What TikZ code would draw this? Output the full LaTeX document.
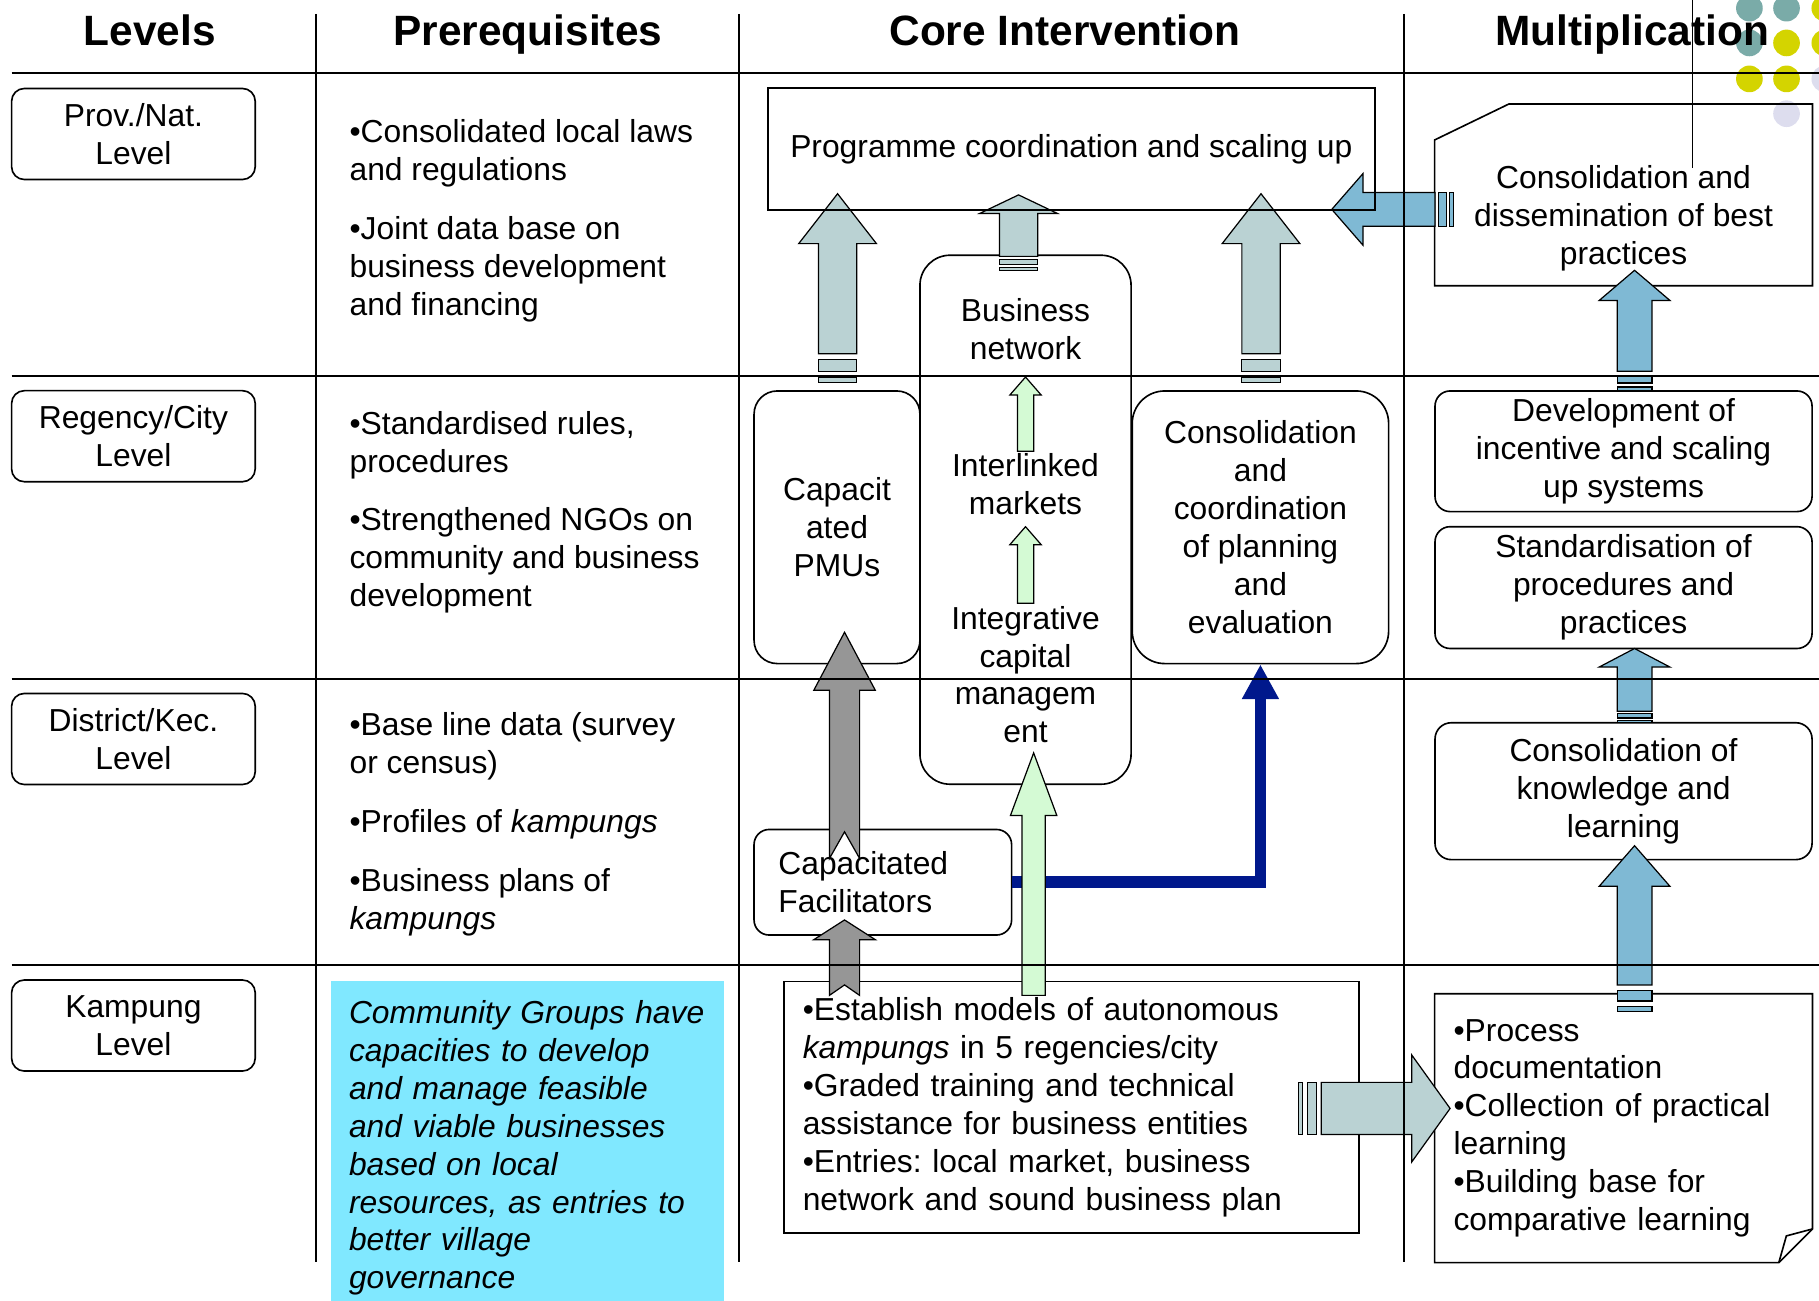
\documentclass[tikz,border=0pt]{standalone}
\usepackage{fontspec}
\setmainfont{Liberation Sans}
\usetikzlibrary{calc,positioning,arrows.meta}
\frenchspacing

\definecolor{cellcyan}{RGB}{128,232,255}
\definecolor{arrgray}{RGB}{186,210,211}
\definecolor{arrblue}{RGB}{127,185,212}
\definecolor{arrgreen}{RGB}{212,250,212}
\definecolor{arrdark}{RGB}{150,150,150}
\definecolor{linkblue}{RGB}{0,24,140}
\definecolor{dotteal}{RGB}{122,171,168}
\definecolor{dotyellow}{RGB}{212,212,0}
\definecolor{dotlilac}{RGB}{221,221,238}

\newcommand{\bodyfont}{\fontsize{15.6pt}{18.6pt}\selectfont}
\newcommand{\headfont}{\fontsize{20.8pt}{24pt}\selectfont\bfseries}

\newcommand{\stripeup}[7][]{%
  \coordinate (sB) at (#2);
  \coordinate (sH) at (#2 |- #3);
  \draw[#1] ($(sB)+(-#5,0)$) rectangle ($(sB)+(#5,-#4)$);
  \draw[#1] ($(sB)+(-#5,-2*#4)$) rectangle ($(sB)+(#5,-4*#4)$);
  \draw[#1] ($(sB)+(-#5,-5*#4)$) -- ($(sH)+(-#5,#7)$) -- ($(sH)+(-#6,#7)$) -- (sH)
    -- ($(sH)+(#6,#7)$) -- ($(sH)+(#5,#7)$) -- ($(sB)+(#5,-5*#4)$) -- cycle;}

\newcommand{\stripeh}[8][]{%
  \pgfmathsetmacro\blka{(#8)*(#4)}%
  \pgfmathsetmacro\blkb{2*(#8)*(#4)}%
  \pgfmathsetmacro\blkc{4*(#8)*(#4)}%
  \pgfmathsetmacro\blkd{5*(#8)*(#4)}%
  \pgfmathsetmacro\blke{0-(#8)*(#7)}%
  \coordinate (sB) at (#2);
  \coordinate (sH) at (#2 -| #3);
  \draw[#1] ($(sB)+(0,-#5)$) rectangle ($(sB)+(\blka,#5)$);
  \draw[#1] ($(sB)+(\blkb,-#5)$) rectangle ($(sB)+(\blkc,#5)$);
  \draw[#1] ($(sB)+(\blkd,-#5)$) -- ($(sH)+(\blke,-#5)$) -- ($(sH)+(\blke,-#6)$) -- (sH)
    -- ($(sH)+(\blke,#6)$) -- ($(sH)+(\blke,#5)$) -- ($(sB)+(\blkd,#5)$) -- cycle;}

\newcommand{\plainup}[7][]{%
  \coordinate (sB) at (#2);
  \coordinate (sH) at (#2 |- #3);
  \draw[#1] ($(sB)+(-#4,0)$) -- ($(sH)+(-#4,#6)$) -- ($(sH)+(-#5,#6)$) -- (sH)
    -- ($(sH)+(#5,#6)$) -- ($(sH)+(#4,#6)$) -- ($(sB)+(#4,0)$) -- ($(sB)+(0,-#7)$) -- cycle;}

\begin{document}
\begin{tikzpicture}[
  x=0.2mm, y=-0.2mm,
  font=\bodyfont,
  lvlbox/.style={draw, line width=0.8pt, rounded corners=2.2mm, align=center, inner sep=0pt,
    minimum width=42mm, minimum height=15.7mm},
  head/.style={font=\headfont, anchor=base, inner sep=0pt},
  prereq/.style={align=left, anchor=north west, inner sep=0pt},
  core/.style={draw, line width=0.8pt, align=center, inner sep=0pt},
  multbox/.style={draw, line width=0.8pt, rounded corners=2.6mm, align=center, inner sep=0pt,
    minimum width=65mm},
  grid/.style={line width=1pt},
  blk/.style={draw, line width=0.6pt, line join=miter}
]
\useasboundingbox (0,0) rectangle (1568,1121);

\foreach \dx/\dy/\dc in {1508/7/dotteal, 1540/7/dotteal, 1573/7/dotyellow,
    1508/37/dotteal, 1540/37/dotyellow, 1573/37/dotyellow,
    1508/68/dotyellow, 1540/68/dotyellow, 1573/68/dotlilac, 1540/98/dotlilac}
  \fill[\dc] (\dx,\dy) circle[radius=2.3mm];

\node[lvlbox] (prov) at (115,115.5) {Prov./Nat.\\Level};
\node[lvlbox] (reg) at (115,376) {Regency/City\\Level};
\node[lvlbox] (dist) at (115,637) {District/Kec.\\Level};
\node[lvlbox] (kamp) at (115,884) {Kampung\\Level};

\node[prereq] (pre1) at (301,103) {•Consolidated local laws\\and regulations\\[3.6mm]•Joint data base on\\business development\\and financing};
\node[prereq] (pre2) at (301,354) {•Standardised rules,\\procedures\\[3.6mm]•Strengthened NGOs on\\community and business\\development};
\node[prereq] (pre3) at (301,614) {•Base line data (survey\\or census)\\[3.6mm]•Profiles of \textit{kampungs}\\[3.6mm]•Business plans of\\\textit{kampungs}};
\node[fill=cellcyan, anchor=north west, inner xsep=3.1mm, inner ysep=3.4mm, text width=61.6mm,
  align=left, font=\bodyfont\itshape] (comm) at (285,845) {Community Groups have\\capacities to develop\\and manage feasible\\and viable businesses\\based on local\\resources, as entries to\\better village\\governance};

\node[core, rounded corners=4mm, minimum width=28.6mm, minimum height=47mm] (pmu) at (721.5,454.5) {Capacit\\ated\\PMUs};
\node[core, rounded corners=5.2mm, minimum width=36.4mm, minimum height=91.2mm] (bnet) at (884,448) {};
\node[align=center] (bnetA) at (884,284) {Business\\network};
\node[align=center] (bnetB) at (884,417) {Interlinked\\markets};
\node[align=center] (bnetC) at (884,581.5) {Integrative\\capital\\managem\\ent};
\node[core, rounded corners=5.6mm, minimum width=44.2mm, minimum height=47mm] (cons) at (1086.5,454.5) {Consolidation\\and\\coordination\\of planning\\and\\evaluation};
\node[core, rounded corners=2.6mm, minimum width=44.4mm, minimum height=18.2mm, text width=36mm, align=left] (fac) at (761,760.5) {Capacitated\\Facilitators};
\node[core, minimum width=99.1mm, minimum height=43.4mm, text width=92.7mm, align=left] (kcore) at (923.75,954.5) {•Establish models of autonomous\\\textit{kampungs} in 5 regencies/city\\•Graded training and technical\\assistance for business entities\\•Entries: local market, business\\network and sound business plan};

\node[minimum width=65mm, minimum height=31.2mm, inner sep=0pt] (diss) at (1399.5,168) {};
\draw[line width=0.8pt] (diss.south west) -- ($(diss.north west)+(0,31)$) -- ($(diss.north west)+(64,0)$) -- (diss.north east) -- (diss.south east) -- cycle;
\node[align=center] (dissA) at (1399.5,188) {Consolidation and\\dissemination of best\\practices};
\node[multbox, minimum height=20.8mm] (dev) at (1399.5,389) {Development of\\incentive and scaling\\up systems};
\node[multbox, minimum height=21mm] (std) at (1399.5,506.5) {Standardisation of\\procedures and\\practices};
\node[multbox, rounded corners=2.8mm, minimum height=23.6mm] (know) at (1399.5,682) {Consolidation of\\knowledge and\\learning};
\node[minimum width=65mm, minimum height=46.2mm, inner sep=0pt, text width=58.6mm, align=left] (note) at (1399.5,972.5) {•Process\\documentation\\•Collection of practical\\learning\\•Building base for\\comparative learning};
\draw[line width=0.8pt] (note.north west) -- (note.north east) -- ($(note.south east)+(0,-29)$) -- ($(note.south east)+(-29,0)$) -- (note.south west) -- cycle;
\draw[line width=0.8pt] ($(note.south east)+(0,-29)$) -- ($(note.south east)+(-22.5,-23)$) -- ($(note.south east)+(-29,0)$);

\draw[linkblue, line width=2mm, -{Triangle[length=6mm, width=6mm]}] (fac.east) -| (cons.south);

\coordinate (c1b) at (722,330); \coordinate (c1t) at (722,167);
\coordinate (c2b) at (878,233); \coordinate (c2t) at (878,168);
\coordinate (c3b) at (1087,330); \coordinate (c3t) at (1087,167);
\stripeup[blk, fill=arrgray]{c1b}{c1t}{5}{16.5}{33.5}{43}
\stripeup[blk, fill=arrgray]{c2b}{c2t}{2.4}{16.5}{33.5}{16}
\stripeup[blk, fill=arrgray]{c3b}{c3t}{5}{16.5}{33.5}{43}

\coordinate (hrb) at (1119,955.5); \coordinate (hrt) at (1250,955.5);
\stripeh[blk, fill=arrgray]{hrb}{hrt}{4}{22.5}{46}{33}{1}
\coordinate (hlb) at (1253,180.5); \coordinate (hlt) at (1148,180.5);
\stripeh[blk, fill=arrblue]{hlb}{hlt}{3.2}{14.5}{31}{27}{-1}

\coordinate (m1b) at (1409,872); \coordinate (m1t) at (1409,729);
\coordinate (m2b) at (1409,623); \coordinate (m2t) at (1409,559);
\coordinate (m3b) at (1409,337); \coordinate (m3t) at (1409,233);
\stripeup[blk, fill=arrblue]{m1b}{m1t}{4.6}{15}{30.5}{35}
\stripeup[blk, fill=arrblue]{m2b}{m2t}{2}{15}{30.5}{16}
\stripeup[blk, fill=arrblue]{m3b}{m3t}{3.4}{15}{30.5}{26}

\coordinate (g1b) at (884,389); \coordinate (g1t) at (884,325);
\coordinate (g2b) at (884,520); \coordinate (g2t) at (884,454);
\coordinate (g3b) at (891,858); \coordinate (g3t) at (891,649);
\plainup[blk, fill=arrgreen]{g1b}{g1t}{7}{13.5}{15.5}{0}
\plainup[blk, fill=arrgreen]{g2b}{g2t}{7}{13.5}{15.5}{0}
\plainup[blk, fill=arrgreen]{g3b}{g3t}{10}{20}{54}{0}

\coordinate (d1b) at (728,740); \coordinate (d1t) at (728,545);
\coordinate (d2b) at (728,858); \coordinate (d2t) at (728,793);
\plainup[blk, fill=arrdark]{d1b}{d1t}{13}{26.5}{50}{23}
\plainup[blk, fill=arrdark]{d2b}{d2t}{13}{26.5}{17}{9}

\draw[grid] (10,63) -- (1568,63);
\foreach \ry in {324,585,832}
  \draw[grid] (10,\ry) -- (1568,\ry);
\foreach \cx in {272,637,1210}
  \draw[grid] (\cx,12) -- (\cx,1088);

\node[core, minimum width=104.6mm, minimum height=21mm] (prog) at (923.5,128.5) {Programme coordination and scaling up};

\node[head] (hlev) at (129,39) {Levels};
\node[head] (hpre) at (455,39) {Prerequisites};
\node[head] (hcore) at (918,39) {Core Intervention};
\node[head] (hmult) at (1407,39) {Multiplication};
\draw[line width=0.6pt] (1459,0) -- (1459,145);
\end{tikzpicture}
\end{document}
